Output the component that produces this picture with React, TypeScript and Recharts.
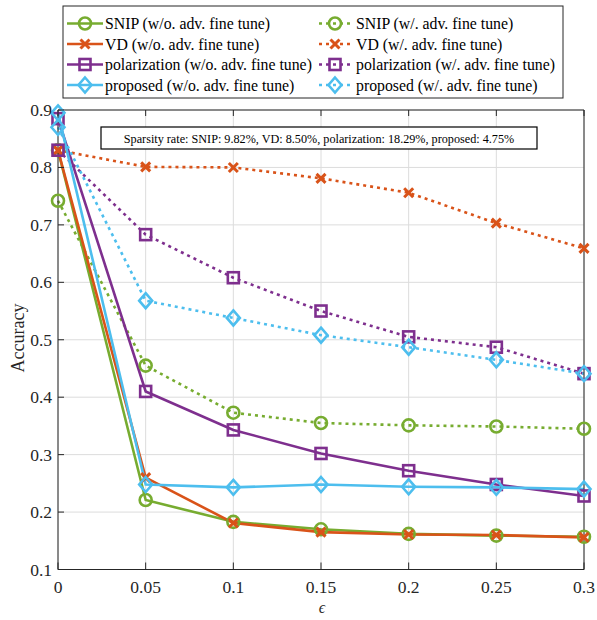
import React from 'react';
import { LineChart, Line, XAxis, YAxis, CartesianGrid } from 'recharts';

const epsilons = [0, 0.05, 0.1, 0.15, 0.2, 0.25, 0.3];
const xTicks = [0, 0.05, 0.1, 0.15, 0.2, 0.25, 0.3];
const yTicks = [0.1, 0.2, 0.3, 0.4, 0.5, 0.6, 0.7, 0.8, 0.9];

const snipNoFt = [0.83, 0.221, 0.183, 0.17, 0.162, 0.159, 0.157];
const snipFt = [0.742, 0.455, 0.373, 0.355, 0.351, 0.349, 0.345];
const vdNoFt = [0.83, 0.26, 0.181, 0.165, 0.161, 0.16, 0.156];
const vdFt = [0.83, 0.801, 0.8, 0.781, 0.756, 0.703, 0.659];
const polNoFt = [0.885, 0.41, 0.343, 0.302, 0.272, 0.248, 0.228];
const polFt = [0.83, 0.683, 0.608, 0.55, 0.505, 0.487, 0.441];
const propNoFt = [0.895, 0.248, 0.243, 0.248, 0.244, 0.243, 0.24];
const propFt = [0.87, 0.568, 0.538, 0.508, 0.487, 0.465, 0.441];

const annotation = 'Sparsity rate: SNIP: 9.82%, VD: 8.50%, polarization: 18.29%, proposed: 4.75%';

const GREEN = '#77AC30';
const ORANGE = '#D95319';
const PURPLE = '#7E2F8E';
const BLUE = '#4DBEEE';
const FONT = '"Liberation Serif", "Times New Roman", serif';

type MarkerKind = 'circle' | 'x' | 'square' | 'diamond';

const series: { key: string; label: string; values: number[]; color: string; dotted: boolean; marker: MarkerKind }[] = [
  { key: 'snipNoFt', label: 'SNIP (w/o. adv. fine tune)', values: snipNoFt, color: GREEN, dotted: false, marker: 'circle' },
  { key: 'snipFt', label: 'SNIP (w/. adv. fine tune)', values: snipFt, color: GREEN, dotted: true, marker: 'circle' },
  { key: 'vdNoFt', label: 'VD (w/o. adv. fine tune)', values: vdNoFt, color: ORANGE, dotted: false, marker: 'x' },
  { key: 'vdFt', label: 'VD (w/. adv. fine tune)', values: vdFt, color: ORANGE, dotted: true, marker: 'x' },
  { key: 'polNoFt', label: 'polarization (w/o. adv. fine tune)', values: polNoFt, color: PURPLE, dotted: false, marker: 'square' },
  { key: 'polFt', label: 'polarization (w/. adv. fine tune)', values: polFt, color: PURPLE, dotted: true, marker: 'square' },
  { key: 'propNoFt', label: 'proposed (w/o. adv. fine tune)', values: propNoFt, color: BLUE, dotted: false, marker: 'diamond' },
  { key: 'propFt', label: 'proposed (w/. adv. fine tune)', values: propFt, color: BLUE, dotted: true, marker: 'diamond' },
];

const data = epsilons.map((e, i) => {
  const row: Record<string, number> = { eps: e };
  series.forEach((s) => {
    row[s.key] = s.values[i];
  });
  return row;
});

function Marker({ kind, cx, cy, color }: { kind: MarkerKind; cx: number; cy: number; color: string }) {
  const sw = 2.6;
  if (kind === 'circle') return <circle cx={cx} cy={cy} r={6} fill="none" stroke={color} strokeWidth={sw} />;
  if (kind === 'square')
    return <rect x={cx - 5.5} y={cy - 5.5} width={11} height={11} fill="none" stroke={color} strokeWidth={sw} />;
  if (kind === 'diamond')
    return (
      <path
        d={`M${cx},${cy - 7.5} L${cx + 6.5},${cy} L${cx},${cy + 7.5} L${cx - 6.5},${cy} Z`}
        fill="none"
        stroke={color}
        strokeWidth={sw}
      />
    );
  return (
    <g stroke={color} strokeWidth={3}>
      <line x1={cx - 4.5} y1={cy - 4.5} x2={cx + 4.5} y2={cy + 4.5} />
      <line x1={cx - 4.5} y1={cy + 4.5} x2={cx + 4.5} y2={cy - 4.5} />
    </g>
  );
}

const TICK_COLOR = '#262626';

function BottomTick(props: any) {
  const { x, y, payload } = props;
  return (
    <g>
      <line x1={x} y1={y} x2={x} y2={y - 7} stroke={TICK_COLOR} strokeWidth={1} />
      <text x={x} y={y + 23} textAnchor="middle" fontFamily={FONT} fontSize={17.5} fill={TICK_COLOR}>
        {String(payload.value)}
      </text>
    </g>
  );
}

function TopTick(props: any) {
  const { x, y } = props;
  return <line x1={x} y1={y} x2={x} y2={y + 6} stroke={TICK_COLOR} strokeWidth={1} />;
}

function LeftTick(props: any) {
  const { x, y, payload } = props;
  return (
    <g>
      <line x1={x} y1={y} x2={x + 6} y2={y} stroke={TICK_COLOR} strokeWidth={1} />
      <text x={x - 6} y={y + 6} textAnchor="end" fontFamily={FONT} fontSize={17.5} fill={TICK_COLOR}>
        {payload.value.toFixed(1)}
      </text>
    </g>
  );
}

function RightTick(props: any) {
  const { x, y } = props;
  return <line x1={x} y1={y} x2={x - 6} y2={y} stroke={TICK_COLOR} strokeWidth={1} />;
}

function LegendBox() {
  const left = 63;
  const top = 6;
  const w = 500;
  const h = 92;
  const rows = [23.5, 44, 64.5, 85];
  const cols = [
    { sx1: 67, sx2: 103, tx: 105 },
    { sx1: 319, sx2: 351, tx: 356 },
  ];
  return (
    <svg width={597} height={110} style={{ position: 'absolute', left: 0, top: 0 }}>
      <rect x={left} y={top} width={w} height={h} fill="#fff" stroke="#262626" strokeWidth={1} />
      {series.map((s, i) => {
        const r = Math.floor(i / 2);
        const c = cols[i % 2];
        const y = rows[r];
        const mid = (c.sx1 + c.sx2) / 2;
        return (
          <g key={s.key}>
            <line
              x1={c.sx1}
              y1={y}
              x2={c.sx2}
              y2={y}
              stroke={s.color}
              strokeWidth={2.6}
              strokeDasharray={s.dotted ? '3 4' : undefined}
            />
            <Marker kind={s.marker} cx={mid} cy={y} color={s.color} />
            <text x={c.tx} y={y + 5.5} fontFamily={FONT} fontSize={15.8} fill="#000">
              {s.label}
            </text>
          </g>
        );
      })}
    </svg>
  );
}

export default function App() {
  return (
    <div style={{ position: 'absolute', left: 0, top: 0, width: 597, height: 620, background: '#fff' }}>
      <LineChart
        width={597}
        height={620}
        data={data}
        margin={{ top: 109, right: 12, bottom: 49.5, left: 57 }}
        style={{ position: 'absolute', left: 0, top: 0 }}
      >
        <CartesianGrid stroke="#dcdcdc" strokeWidth={1} xAxisId="b" yAxisId="l" />
        <XAxis
          xAxisId="b"
          dataKey="eps"
          type="number"
          domain={[0, 0.3]}
          ticks={xTicks}
          height={1}
          tickSize={0}
          tickMargin={0}
          tickLine={false}
          axisLine={{ stroke: TICK_COLOR, strokeWidth: 1 }}
          tick={(p: any) => <BottomTick {...p} />}
          interval={0}
        />
        <XAxis
          xAxisId="t"
          orientation="top"
          dataKey="eps"
          type="number"
          domain={[0, 0.3]}
          ticks={xTicks}
          height={1}
          tickSize={0}
          tickMargin={0}
          tickLine={false}
          axisLine={{ stroke: TICK_COLOR, strokeWidth: 1 }}
          tick={(p: any) => <TopTick {...p} />}
          interval={0}
        />
        <YAxis
          yAxisId="l"
          type="number"
          domain={[0.1, 0.9]}
          ticks={yTicks}
          width={1}
          tickSize={0}
          tickMargin={0}
          tickLine={false}
          axisLine={{ stroke: TICK_COLOR, strokeWidth: 1 }}
          tick={(p: any) => <LeftTick {...p} />}
          interval={0}
        />
        <YAxis
          yAxisId="r"
          orientation="right"
          type="number"
          domain={[0.1, 0.9]}
          ticks={yTicks}
          width={1}
          tickSize={0}
          tickMargin={0}
          tickLine={false}
          axisLine={{ stroke: TICK_COLOR, strokeWidth: 1 }}
          tick={(p: any) => <RightTick {...p} />}
          interval={0}
        />
        {series.map((s) => (
          <Line
            key={s.key}
            xAxisId="b"
            yAxisId="l"
            dataKey={s.key}
            type="linear"
            stroke={s.color}
            strokeWidth={2.6}
            strokeDasharray={s.dotted ? '3 4' : undefined}
            isAnimationActive={false}
            dot={(p: any) => (
              <Marker key={`${s.key}-${p.index}`} kind={s.marker} cx={p.cx} cy={p.cy} color={s.color} />
            )}
            activeDot={false}
          />
        ))}
      </LineChart>
      <LegendBox />
      <svg width={597} height={620} style={{ position: 'absolute', left: 0, top: 0, pointerEvents: 'none' }}>
        <rect x={101} y={127} width={436} height={22} fill="#fff" stroke="#000" strokeWidth={1.2} />
        <text x={319} y={142.5} textAnchor="middle" fontFamily={FONT} fontSize={12.2} fill="#000">
          {annotation}
        </text>
        <text
          x={24}
          y={338}
          textAnchor="middle"
          fontFamily={FONT}
          fontSize={18}
          fill={TICK_COLOR}
          transform="rotate(-90 24 338)"
        >
          Accuracy
        </text>
        <text x={322} y={613} textAnchor="middle" fontFamily={FONT} fontSize={16} fontStyle="italic" fill={TICK_COLOR}>
          ϵ
        </text>
      </svg>
    </div>
  );
}
